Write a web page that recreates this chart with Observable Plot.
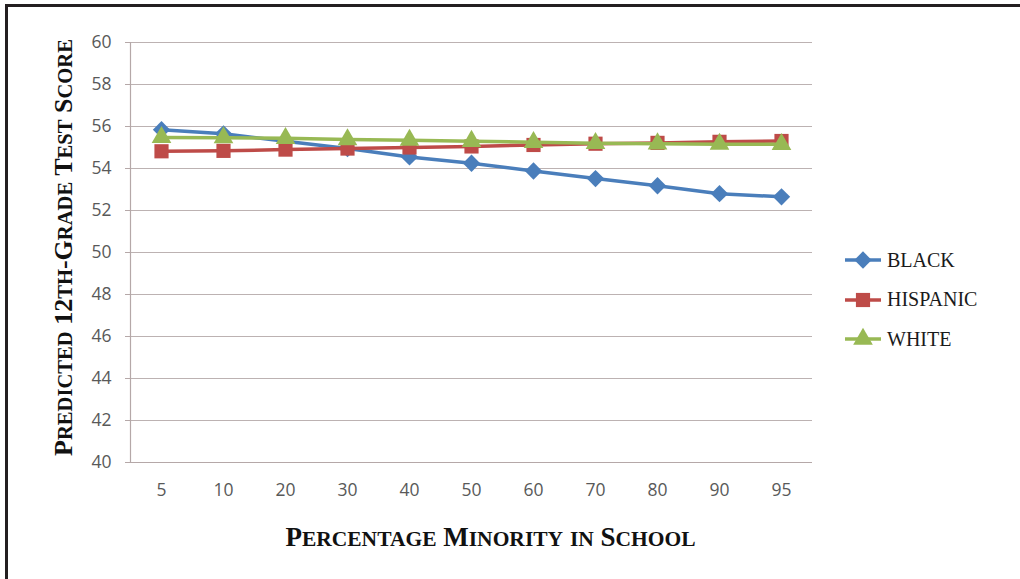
<!DOCTYPE html>
<html>
<head>
<meta charset="utf-8">
<script src="https://cdn.jsdelivr.net/npm/d3@7"></script>
<script src="https://cdn.jsdelivr.net/npm/@observablehq/plot@0.6"></script>
<style>
  html, body { margin: 0; padding: 0; background: #fff; }
  #wrap { position: relative; width: 1020px; height: 579px; overflow: hidden; }
  #frame { position: absolute; left: 5px; top: 4px; width: 1100px; height: 700px;
           border-top: 3px solid #231f20; border-left: 3px solid #231f20; pointer-events: none; }
  #legend { position: absolute; left: 843px; top: 248px; font-family: "Liberation Serif", serif;
            font-size: 20px; color: #1a1a1a; }
  #legend .item { display: flex; align-items: center; height: 24px; margin-bottom: 15.5px; }
  #legend svg { display: block; margin-right: 4px; }
</style>
</head>
<body>
<div id="wrap">
  <div id="chart"></div>
  <div id="legend"></div>
  <div id="frame"></div>
</div>
<script>
const categories = ["5", "10", "20", "30", "40", "50", "60", "70", "80", "90", "95"];
const seriesNames = ["BLACK", "HISPANIC", "WHITE"];
const blackValues    = [55.85, 55.65, 55.30, 54.95, 54.55, 54.25, 53.88, 53.52, 53.18, 52.80, 52.65];
const hispanicValues = [54.82, 54.84, 54.90, 54.95, 55.00, 55.05, 55.12, 55.18, 55.22, 55.27, 55.31];
const whiteValues    = [55.48, 55.47, 55.44, 55.38, 55.35, 55.30, 55.25, 55.20, 55.18, 55.16, 55.15];
const yTicks = [40, 42, 44, 46, 48, 50, 52, 54, 56, 58, 60];
const yTitle = "Predicted 12th-Grade Test Score";
const xTitle = "Percentage Minority in School";

const colors = {BLACK: "#4a7ebb", HISPANIC: "#be4b48", WHITE: "#98b954"};
const symbols = {BLACK: "diamond2", HISPANIC: "square", WHITE: "triangle"};
const radii = {BLACK: 7.8, HISPANIC: 8, WHITE: 7.3};

const valuesBy = {BLACK: blackValues, HISPANIC: hispanicValues, WHITE: whiteValues};
const data = seriesNames.flatMap(s => categories.map((c, i) => ({series: s, cat: c, value: valuesBy[s][i]})));

const marks = [
  Plot.gridY(yTicks, {stroke: "#bcb2b2", strokeOpacity: 1, strokeWidth: 1}),
  Plot.axisY(yTicks, {tickSize: 5, tickPadding: 14, stroke: "#b5a8a8", fill: "#595959",
                      fontSize: 17.5, fontFamily: "Open Sans", label: null}),
  Plot.axisX({tickSize: 0, tickPadding: 21, fill: "#595959", fontSize: 17.5,
              fontFamily: "Open Sans", label: null}),
  Plot.ruleY([40], {stroke: "#b5a8a8", strokeWidth: 1.2}),
  Plot.frame({anchor: "left", stroke: "#b5a8a8", strokeWidth: 1.2}),
];
for (const s of seriesNames) {
  const d = data.filter(r => r.series === s);
  marks.push(Plot.line(d, {x: "cat", y: "value", stroke: colors[s], strokeWidth: 3.5}));
  marks.push(Plot.dot(d, {x: "cat", y: "value", symbol: () => symbols[s], r: radii[s],
                          fill: colors[s], stroke: "none"}));
}
marks.push(Plot.text([yTitle], {frameAnchor: "left", dx: -67, dy: -5, rotate: -90,
  textAnchor: "middle", lineAnchor: "middle", className: "smallcaps-title y-title",
  fontFamily: "Liberation Serif", fontWeight: "bold", fontSize: 26,
  fill: "#111", text: d => d}));
marks.push(Plot.text([xTitle], {frameAnchor: "bottom", dx: 19, dy: 75,
  textAnchor: "middle", lineAnchor: "middle", className: "smallcaps-title x-title",
  fontFamily: "Liberation Serif", fontWeight: "bold", fontSize: 27,
  fill: "#111", text: d => d}));

const chart = Plot.plot({
  width: 1020, height: 579,
  marginLeft: 130, marginRight: 208, marginTop: 42, marginBottom: 117,
  x: {type: "point", domain: categories, padding: 0.5},
  y: {domain: [40, 60]},
  symbol: {type: "identity"},
  style: {background: "transparent", overflow: "visible"},
  marks
});
document.getElementById("chart").appendChild(chart);

// Small-caps rendering: capitals at full size, other letters as reduced capitals
function smallCaps(selector, big, small) {
  d3.select(chart).selectAll(selector + " text").each(function() {
    const el = d3.select(this);
    const txt = el.text();
    el.text(null);
    const parts = txt.match(/([A-Z0-9\-]+|[a-z]+|\s+)/g);
    for (const p of parts) {
      const isLower = /^[a-z]+$/.test(p);
      el.append("tspan").attr("font-size", isLower ? small : big).text(p.toUpperCase());
    }
  });
}
smallCaps(".y-title", 26, 20.6);
smallCaps(".x-title", 27, 21.5);

// Legend
const legend = d3.select("#legend");
const symMap = {diamond2: d3.symbolDiamond2, square: d3.symbolSquare, triangle: d3.symbolTriangle};
for (const s of seriesNames) {
  const item = legend.append("div").attr("class", "item");
  const svg = item.append("svg").attr("width", 40).attr("height", 24);
  svg.append("line").attr("x1", 2).attr("x2", 38).attr("y1", 12).attr("y2", 12)
     .attr("stroke", colors[s]).attr("stroke-width", 3.5);
  svg.append("path").attr("transform", "translate(20,12)")
     .attr("d", d3.symbol(symMap[symbols[s]], radii[s] * radii[s] * Math.PI)())
     .attr("fill", colors[s]);
  item.append("span").text(s);
}
</script>
</body>
</html>
